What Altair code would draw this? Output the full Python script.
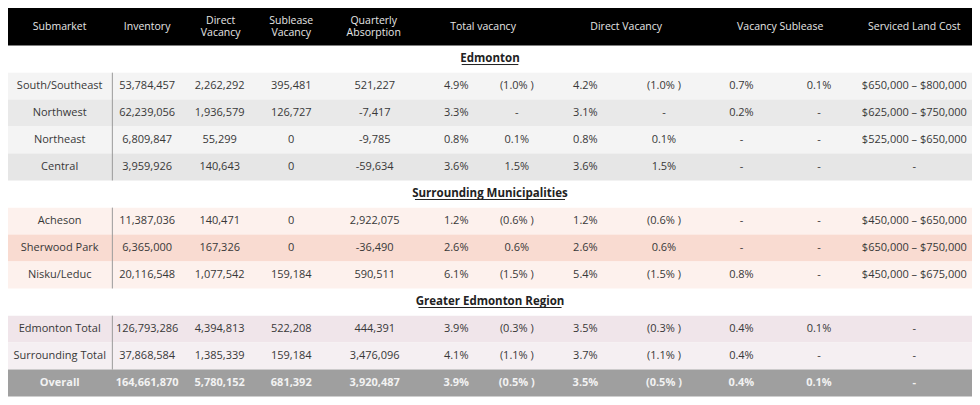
import altair as alt
import pandas as pd

# ---------------- data ----------------
headers = ["Submarket", "Inventory", "Direct\nVacancy", "Sublease\nVacancy",
           "Quarterly\nAbsorption", "Total vacancy", "Direct Vacancy",
           "Vacancy Sublease", "Serviced Land Cost"]
sections = ["Edmonton", "Surrounding Municipalities", "Greater Edmonton Region"]
section_rows = [4, 3, 3]

submarkets = ["South/Southeast", "Northwest", "Northeast", "Central",
              "Acheson", "Sherwood Park", "Nisku/Leduc",
              "Edmonton Total", "Surrounding Total", "Overall"]
inventory = ["53,784,457", "62,239,056", "6,809,847", "3,959,926",
             "11,387,036", "6,365,000", "20,116,548",
             "126,793,286", "37,868,584", "164,661,870"]
direct_vacancy = ["2,262,292", "1,936,579", "55,299", "140,643",
                  "140,471", "167,326", "1,077,542",
                  "4,394,813", "1,385,339", "5,780,152"]
sublease_vacancy = ["395,481", "126,727", "0", "0",
                    "0", "0", "159,184",
                    "522,208", "159,184", "681,392"]
absorption = ["521,227", "-7,417", "-9,785", "-59,634",
              "2,922,075", "-36,490", "590,511",
              "444,391", "3,476,096", "3,920,487"]
total_vac = ["4.9%", "3.3%", "0.8%", "3.6%", "1.2%", "2.6%", "6.1%", "3.9%", "4.1%", "3.9%"]
total_vac_chg = ["(1.0% )", "-", "0.1%", "1.5%", "(0.6% )", "0.6%", "(1.5% )",
                 "(0.3% )", "(1.1% )", "(0.5% )"]
direct_vac = ["4.2%", "3.1%", "0.8%", "3.6%", "1.2%", "2.6%", "5.4%", "3.5%", "3.7%", "3.5%"]
direct_vac_chg = ["(1.0% )", "-", "0.1%", "1.5%", "(0.6% )", "0.6%", "(1.5% )",
                  "(0.3% )", "(1.1% )", "(0.5% )"]
sublease_vac = ["0.7%", "0.2%", "-", "-", "-", "-", "0.8%", "0.4%", "0.4%", "0.4%"]
sublease_vac_chg = ["0.1%", "-", "-", "-", "-", "-", "-", "0.1%", "-", "0.1%"]
land_cost = ["$650,000 \u2013 $800,000", "$625,000 \u2013 $750,000",
             "$525,000 \u2013 $650,000", "-",
             "$450,000 \u2013 $650,000", "$650,000 \u2013 $750,000",
             "$450,000 \u2013 $675,000", "-", "-", "-"]

# ---------------- layout / style ----------------
W, H = 964, 389
X0, X1, Y0, Y1 = 5, 975, 5, 399
header_x = [57, 145, 219, 290, 373, 483, 627, 782, 917]
col_x = [57, 145, 218, 290, 374, 456, 517, 586, 665, 743, 821, 917]
sep_x = 110
header_h, title_h, row_h = 38, 27.5, 27.3
header_lh = 12.5
title_w = [57, 151, 144]
row_fill = ["#f4f4f4", "#e9e9e9", "#f4f4f4", "#e6e6e6",
            "#fdf1ed", "#f9dbd1", "#fdf1ed",
            "#f0e5ea", "#f5eff2", "#9f9f9f"]
FONT = "Open Sans"

columns = [submarkets, inventory, direct_vacancy, sublease_vacancy, absorption,
           total_vac, total_vac_chg, direct_vac, direct_vac_chg,
           sublease_vac, sublease_vac_chg, land_cost]

# compute row geometry
y = Y0 + header_h
titles, rows, seps = [], [], []
r = 0
for s, n in zip(sections, section_rows):
    titles.append(dict(text=s, y=y + title_h / 2, yu=y + title_h / 2 + 5.5))
    y += title_h
    top = y
    last_normal = top
    for i in range(n):
        rows.append(dict(idx=r, top=y, bot=y + row_h, mid=y + row_h / 2,
                         fill=row_fill[r], overall=submarkets[r] == "Overall"))
        if submarkets[r] != "Overall":
            last_normal = y + row_h
        y += row_h
        r += 1
    seps.append(dict(top=top, bot=last_normal))

for t, w in zip(titles, title_w):
    t["x1"] = 490 - w / 2
    t["x2"] = 490 + w / 2
    t["x"] = 490

bg = pd.DataFrame([dict(x=X0, x2=X1, y=rw["top"], y2=rw["bot"], fill=rw["fill"]) for rw in rows]
                  + [dict(x=X0, x2=X1, y=Y0, y2=Y0 + header_h, fill="#000000")])

cells = []
for rw in rows:
    for cx, col in zip(col_x, columns):
        cells.append(dict(x=cx, y=rw["mid"], text=col[rw["idx"]], overall=rw["overall"]))
cells = pd.DataFrame(cells)

hdr_y = [Y0 + header_h / 2 - (h.count("\n")) * header_lh / 2 for h in headers]
hdr = pd.DataFrame(dict(x=header_x, y=hdr_y, text=headers))
tdf = pd.DataFrame(titles)
sdf = pd.DataFrame([dict(x=sep_x, y=s["top"], y2=s["bot"]) for s in seps])

xs = alt.Scale(domain=[X0, X1], range=[0, W], nice=False, zero=False)
ys = alt.Scale(domain=[Y0, Y1], range=[0, H], nice=False, zero=False)
X = lambda f="x": alt.X(f"{f}:Q", scale=xs, axis=None)
Y = lambda f="y": alt.Y(f"{f}:Q", scale=ys, axis=None)

rects = alt.Chart(bg).mark_rect().encode(
    x=X(), x2="x2", y=Y(), y2="y2", fill=alt.Fill("fill:N", scale=None))

seprule = alt.Chart(sdf).mark_rule(color="#9a9a9a", strokeWidth=1).encode(
    x=X(), y=Y(), y2="y2")

header_text = alt.Chart(hdr).mark_text(
    font=FONT, fontSize=10.5, color="#e6e6e6", lineBreak="\n", lineHeight=header_lh,
    align="center", baseline="middle").encode(x=X(), y=Y(), text="text:N")

body = alt.Chart(cells).transform_filter("!datum.overall").mark_text(
    font=FONT, fontSize=11, color="#383838", align="center", baseline="middle"
).encode(x=X(), y=Y(), text="text:N")

overall = alt.Chart(cells).transform_filter("datum.overall").mark_text(
    font=FONT, fontSize=11, fontWeight="bold", color="#f2f2f2", align="center",
    baseline="middle").encode(x=X(), y=Y(), text="text:N")

title_text = alt.Chart(tdf).mark_text(
    font=FONT, fontSize=11.5, fontWeight="bold", color="#222222", align="center",
    baseline="middle").encode(x=X(), y=Y(), text="text:N")

underline = alt.Chart(tdf).mark_rule(color="#222222", strokeWidth=1).encode(
    x=X("x1"), x2="x2", y=Y("yu"))

chart = alt.layer(rects, seprule, header_text, body, overall, title_text, underline).properties(
    width=W, height=H, padding=0, autosize=alt.AutoSizeParams(type="none")
).configure_view(stroke=None)

chart.save("out.html", embed_options={"renderer": "svg", "actions": False})
